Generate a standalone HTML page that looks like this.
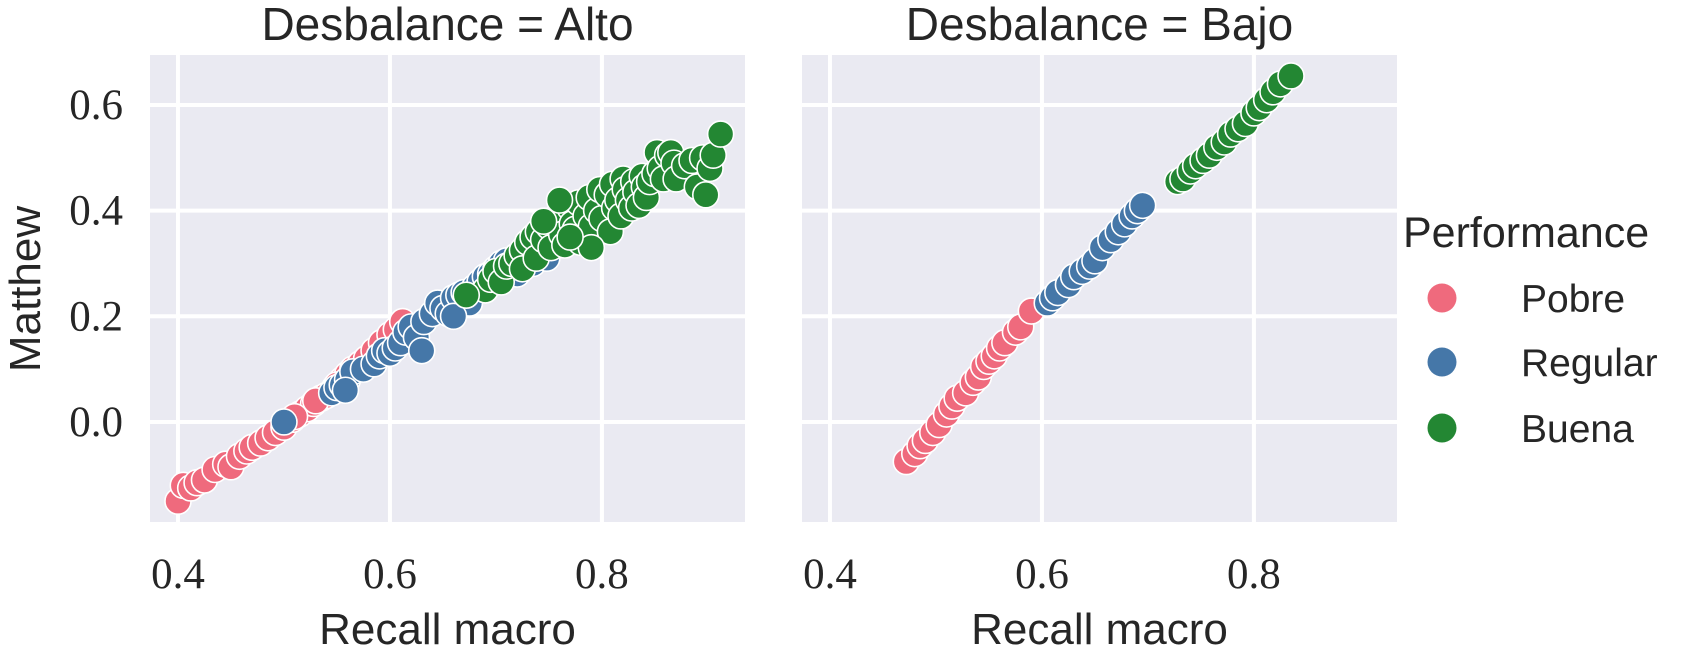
<!DOCTYPE html>
<html><head><meta charset="utf-8"><style>
html,body{margin:0;padding:0;background:#fff;}
svg text{fill:#262626;}
.tick{font-family:"Liberation Serif",serif;font-size:43px;}
.lab{font-family:"Liberation Sans",sans-serif;}
</style></head><body>
<svg id="chart" width="1699" height="657" viewBox="0 0 1699 657" xmlns="http://www.w3.org/2000/svg"></svg>
<script>
const xTicks=[0.4,0.6,0.8];
const xTickLabels=["0.4","0.6","0.8"];
const yTicks=[0.0,0.2,0.4,0.6];
const yTickLabels=["0.0","0.2","0.4","0.6"];
const categories=["Pobre","Regular","Buena"];
const panelTitles=["Desbalance = Alto","Desbalance = Bajo"];
const altoPobreX=[0.400,0.405,0.412,0.418,0.425,0.435,0.445,0.450,0.458,0.465,0.470,0.478,0.485,0.492,0.500,0.508,0.515,0.522,0.528,0.535,0.540,0.548,0.555,0.560,0.565,0.572,0.578,0.585,0.592,0.600,0.606,0.612,0.550,0.530,0.510];
const altoPobreY=[-0.150,-0.120,-0.125,-0.115,-0.110,-0.090,-0.080,-0.085,-0.065,-0.055,-0.048,-0.040,-0.030,-0.020,-0.010,0.005,0.015,0.025,0.035,0.045,0.050,0.065,0.080,0.090,0.100,0.110,0.120,0.135,0.150,0.165,0.175,0.190,0.070,0.040,0.010];
const altoRegularX=[0.500,0.545,0.550,0.555,0.560,0.565,0.558,0.575,0.585,0.590,0.595,0.600,0.605,0.610,0.615,0.620,0.625,0.630,0.632,0.640,0.645,0.650,0.655,0.660,0.665,0.670,0.675,0.680,0.685,0.690,0.695,0.700,0.705,0.710,0.715,0.720,0.730,0.735,0.740,0.748,0.690,0.660,0.700,0.720];
const altoRegularY=[0.000,0.055,0.065,0.070,0.080,0.095,0.060,0.100,0.110,0.125,0.135,0.130,0.140,0.150,0.170,0.180,0.160,0.135,0.190,0.205,0.225,0.215,0.205,0.235,0.240,0.245,0.225,0.255,0.265,0.275,0.280,0.290,0.300,0.305,0.295,0.310,0.320,0.300,0.320,0.310,0.250,0.200,0.265,0.280];
const altoBuenaX=[0.690,0.695,0.700,0.705,0.710,0.715,0.720,0.725,0.725,0.730,0.735,0.738,0.740,0.745,0.750,0.752,0.755,0.760,0.762,0.765,0.770,0.772,0.775,0.778,0.780,0.785,0.788,0.790,0.795,0.798,0.800,0.805,0.808,0.810,0.812,0.815,0.818,0.820,0.822,0.825,0.828,0.830,0.832,0.835,0.838,0.840,0.842,0.845,0.850,0.852,0.855,0.858,0.862,0.865,0.868,0.870,0.878,0.885,0.890,0.895,0.898,0.902,0.905,0.912,0.745,0.760,0.790,0.770,0.672];
const altoBuenaY=[0.250,0.270,0.285,0.265,0.295,0.300,0.315,0.325,0.290,0.340,0.350,0.310,0.360,0.345,0.370,0.330,0.380,0.395,0.355,0.335,0.405,0.375,0.365,0.415,0.340,0.390,0.425,0.370,0.400,0.440,0.385,0.430,0.360,0.450,0.405,0.420,0.390,0.460,0.440,0.420,0.405,0.455,0.435,0.410,0.465,0.445,0.425,0.455,0.470,0.510,0.480,0.460,0.505,0.510,0.490,0.460,0.485,0.495,0.445,0.500,0.430,0.480,0.505,0.545,0.380,0.420,0.330,0.350,0.240];
const bajoPobreX=[0.472,0.480,0.485,0.490,0.497,0.503,0.510,0.515,0.520,0.528,0.535,0.540,0.545,0.550,0.555,0.560,0.565,0.575,0.580,0.590];
const bajoPobreY=[-0.075,-0.060,-0.045,-0.035,-0.020,-0.005,0.015,0.030,0.045,0.055,0.075,0.085,0.105,0.115,0.125,0.140,0.150,0.170,0.180,0.210];
const bajoRegularX=[0.605,0.610,0.615,0.625,0.630,0.638,0.645,0.650,0.657,0.665,0.672,0.678,0.685,0.690,0.695];
const bajoRegularY=[0.225,0.235,0.245,0.260,0.275,0.285,0.295,0.305,0.330,0.345,0.360,0.375,0.390,0.400,0.410];
const bajoBuenaX=[0.728,0.733,0.740,0.745,0.752,0.758,0.765,0.772,0.778,0.785,0.792,0.800,0.805,0.812,0.818,0.825,0.835];
const bajoBuenaY=[0.455,0.460,0.475,0.485,0.495,0.505,0.520,0.530,0.545,0.555,0.565,0.585,0.595,0.610,0.625,0.640,0.655];

const colors={Pobre:"#ef6a7d",Regular:"#4577a8",Buena:"#238733"};
const NS="http://www.w3.org/2000/svg";
const svg=document.getElementById("chart");
const axTop=55,axBot=522,axW=595;
const panelLeft=[150,802];
const xMin=0.3736,xMax=0.935,yMin=-0.1894,yMax=0.6947;
function xs(p,v){return panelLeft[p]+(v-xMin)/(xMax-xMin)*axW;}
function ys(v){return axBot-(v-yMin)/(yMax-yMin)*(axBot-axTop);}
function mk(tag,attrs,parent){const e=document.createElementNS(NS,tag);for(const k in attrs)e.setAttribute(k,attrs[k]);(parent||svg).appendChild(e);return e;}

const panels=[
 [[altoPobreX,altoPobreY,"Pobre"],[altoRegularX,altoRegularY,"Regular"],[altoBuenaX,altoBuenaY,"Buena"]],
 [[bajoPobreX,bajoPobreY,"Pobre"],[bajoRegularX,bajoRegularY,"Regular"],[bajoBuenaX,bajoBuenaY,"Buena"]]
];
panels.forEach((series,p)=>{
  const g=mk("g",{});
  
  
  const bg=mk("rect",{x:panelLeft[p],y:axTop,width:axW,height:axBot-axTop,fill:"#eaeaf2"},g);
  
  
  xTicks.forEach((t,i)=>{
    const l=mk("line",{x1:xs(p,t),x2:xs(p,t),y1:axTop,y2:axBot,stroke:"#fff","stroke-width":4},g);
    
    
    const tx=mk("text",{x:xs(p,t),y:588,"text-anchor":"middle",class:"tick"},g);
    tx.textContent=xTickLabels[i];
    
    
  });
  yTicks.forEach((t,i)=>{
    const l=mk("line",{x1:panelLeft[p],x2:panelLeft[p]+axW,y1:ys(t),y2:ys(t),stroke:"#fff","stroke-width":4},g);
    
    
    if(p===0){
      const tx=mk("text",{x:123,y:ys(t)+14,"text-anchor":"end",class:"tick"},g);
      tx.textContent=yTickLabels[i];
      
      
    }
  });
  series.forEach(([X,Y,cat])=>{
    X.forEach((v,i)=>{
      const c=mk("circle",{cx:xs(p,v),cy:ys(Y[i]),r:13,fill:colors[cat],stroke:"#fff","stroke-width":1.6},g);
      
      
    });
  });
  const title=mk("text",{x:panelLeft[p]+axW/2,y:40,"text-anchor":"middle",class:"lab","font-size":"46"},g);
  title.textContent=panelTitles[p];
  
  
  const xl=mk("text",{x:panelLeft[p]+axW/2,y:644,"text-anchor":"middle",class:"lab","font-size":"44"},g);
  xl.textContent="Recall macro";
  
  
});
const yl=mk("text",{x:0,y:0,"text-anchor":"middle",class:"lab","font-size":"44",transform:"translate(40,289) rotate(-90)"});
yl.textContent="Matthew";



const lg=mk("g",{});


const lt=mk("text",{x:1403,y:247,class:"lab","font-size":"43"},lg);
lt.textContent="Performance";


const legendY=[298,362,428];
categories.forEach((cat,i)=>{
  const c=mk("circle",{cx:1442,cy:legendY[i],r:14.5,fill:colors[cat]},lg);
  
  
  const t=mk("text",{x:1521,y:legendY[i]+14,class:"lab","font-size":"39"},lg);
  t.textContent=cat;
  
  
});
</script>
</body></html>
